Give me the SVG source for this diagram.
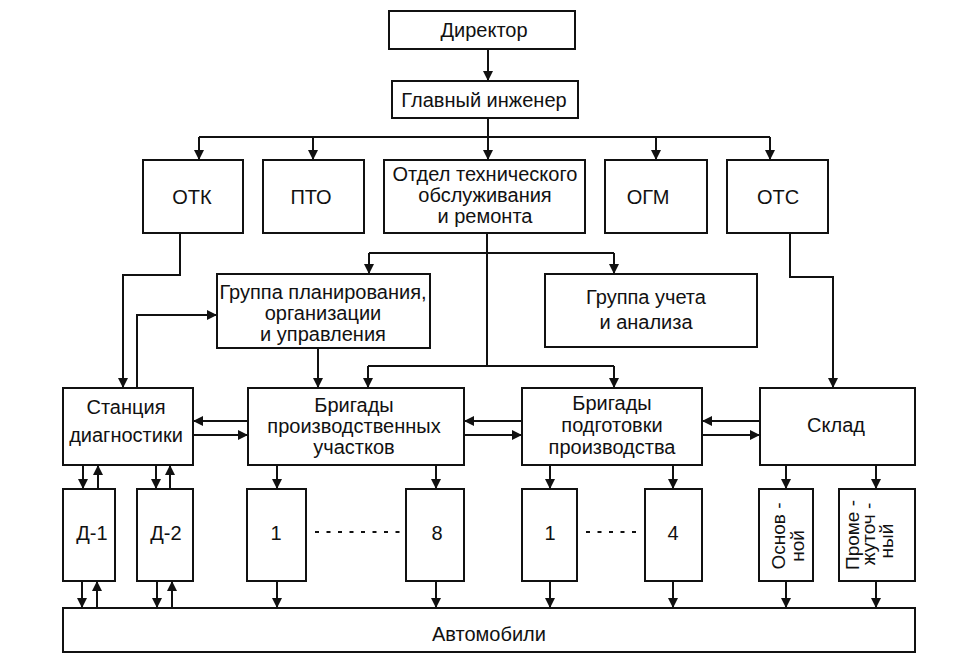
<svg xmlns="http://www.w3.org/2000/svg" width="958" height="658" viewBox="0 0 958 658">
<defs>
<marker id="ah" markerUnits="userSpaceOnUse" markerWidth="10" markerHeight="10" refX="10" refY="5" orient="auto">
<path d="M0,0 L10,5 L0,10 z" fill="#111"/>
</marker>
<style>
rect{fill:#fff;stroke:#111;stroke-width:2}
text{font-family:"Liberation Sans",Arial,sans-serif;font-size:20px;fill:#111;text-anchor:middle}
.c path{fill:none;stroke:#111;stroke-width:2}
.a{marker-end:url(#ah)}
.dots{fill:none;stroke:#111;stroke-width:4;stroke-dasharray:4 7.5}
.v{font-size:19px}
</style>
</defs>
<rect x="0" y="0" width="958" height="658" style="fill:#fff;stroke:none"/>
<g class="c" id="connectors">
<path class="a" d="M488,49 V81"/>
<path d="M488,118 V137 M199,137 H770"/>
<path class="a" d="M199,137 V160"/>
<path class="a" d="M313,137 V160"/>
<path class="a" d="M488,137 V160"/>
<path class="a" d="M656,137 V160"/>
<path class="a" d="M770,137 V160"/>
<path class="a" d="M180,233 V275 H123 V388"/>
<path class="a" d="M137,388 V315 H217"/>
<path d="M487,233 V366 M369,253 H614 M368,366 H614"/>
<path class="a" d="M369,253 V274"/>
<path class="a" d="M614,253 V274"/>
<path class="a" d="M368,366 V388"/>
<path class="a" d="M614,366 V388"/>
<path class="a" d="M318,348 V388"/>
<path class="a" d="M790,233 V277 H833 V388"/>
<path class="a" d="M248,421 H193"/>
<path class="a" d="M193,435 H248"/>
<path class="a" d="M522,421 H464"/>
<path class="a" d="M464,435 H522"/>
<path class="a" d="M760,421 H702"/>
<path class="a" d="M702,435 H760"/>
<path class="a" d="M83,465 V489"/>
<path class="a" d="M98,489 V465"/>
<path class="a" d="M156,465 V489"/>
<path class="a" d="M170,489 V465"/>
<path class="a" d="M277,465 V489"/>
<path class="a" d="M436,465 V489"/>
<path class="a" d="M550,465 V489"/>
<path class="a" d="M673,465 V489"/>
<path class="a" d="M786,465 V489"/>
<path class="a" d="M876,465 V489"/>
<path class="a" d="M82,581 V608"/>
<path class="a" d="M97,608 V581"/>
<path class="a" d="M157,581 V608"/>
<path class="a" d="M172,608 V581"/>
<path class="a" d="M277,581 V608"/>
<path class="a" d="M436,581 V608"/>
<path class="a" d="M550,581 V608"/>
<path class="a" d="M673,581 V608"/>
<path class="a" d="M786,581 V608"/>
<path class="a" d="M876,581 V608"/>
<path class="dots" d="M315,532 H400"/>
<path class="dots" d="M586,532 H638"/>
</g>
<g id="director"><rect x="389" y="11" width="186" height="38"/><text x="484" y="37">Директор</text></g>
<g id="chief"><rect x="392" y="81" width="186" height="37"/><text x="484" y="107">Главный инженер</text></g>
<g id="otk"><rect x="143" y="160" width="100" height="73"/><text x="192" y="204">ОТК</text></g>
<g id="pto"><rect x="263" y="160" width="101" height="73"/><text x="311" y="204">ПТО</text></g>
<g id="otdel"><rect x="384" y="160" width="201" height="73"/><text x="485" y="181">Отдел технического</text><text x="485" y="202">обслуживания</text><text x="485" y="223">и ремонта</text></g>
<g id="ogm"><rect x="605" y="160" width="102" height="73"/><text x="648" y="204">ОГМ</text></g>
<g id="ots"><rect x="727" y="160" width="101" height="73"/><text x="778" y="204">ОТС</text></g>
<g id="planning"><rect x="217" y="274" width="213" height="74"/><text x="323" y="299">Группа планирования,</text><text x="323" y="320">организации</text><text x="323" y="341">и управления</text></g>
<g id="accounting"><rect x="545" y="274" width="212" height="73"/><text x="646" y="304">Группа учета</text><text x="646" y="329">и анализа</text></g>
<g id="station"><rect x="63" y="388" width="130" height="77"/><text x="126" y="414">Станция</text><text x="126" y="442">диагностики</text></g>
<g id="brigades-prod"><rect x="248" y="388" width="216" height="77"/><text x="354" y="412">Бригады</text><text x="354" y="433">производственных</text><text x="354" y="454">участков</text></g>
<g id="brigades-prep"><rect x="522" y="388" width="180" height="77"/><text x="612" y="410">Бригады</text><text x="612" y="432">подготовки</text><text x="612" y="454">производства</text></g>
<g id="sklad"><rect x="760" y="388" width="155" height="77"/><text x="836" y="432">Склад</text></g>
<g id="d1"><rect x="63" y="489" width="52" height="92"/><text x="92" y="540">Д-1</text></g>
<g id="d2"><rect x="137" y="489" width="56" height="92"/><text x="166" y="540">Д-2</text></g>
<g id="p1"><rect x="247" y="489" width="59" height="92"/><text x="276" y="540">1</text></g>
<g id="p8"><rect x="406" y="489" width="58" height="92"/><text x="437" y="540">8</text></g>
<g id="b1"><rect x="522" y="489" width="55" height="92"/><text x="550" y="540">1</text></g>
<g id="b4"><rect x="645" y="489" width="57" height="92"/><text x="673" y="540">4</text></g>
<g id="osnovnoy"><rect x="759" y="489" width="54" height="92"/><text class="v" transform="translate(785,536) rotate(-90)">Основ -</text><text class="v" transform="translate(804,546) rotate(-90)">ной</text></g>
<g id="promezh"><rect x="839" y="489" width="76" height="92"/><text class="v" transform="translate(859,535) rotate(-90)">Проме -</text><text class="v" transform="translate(875,534) rotate(-90)">жуточ -</text><text class="v" transform="translate(893,541) rotate(-90)">ный</text></g>
<g id="avto"><rect x="63" y="608" width="852" height="44"/><text x="489" y="641">Автомобили</text></g>
</svg>
